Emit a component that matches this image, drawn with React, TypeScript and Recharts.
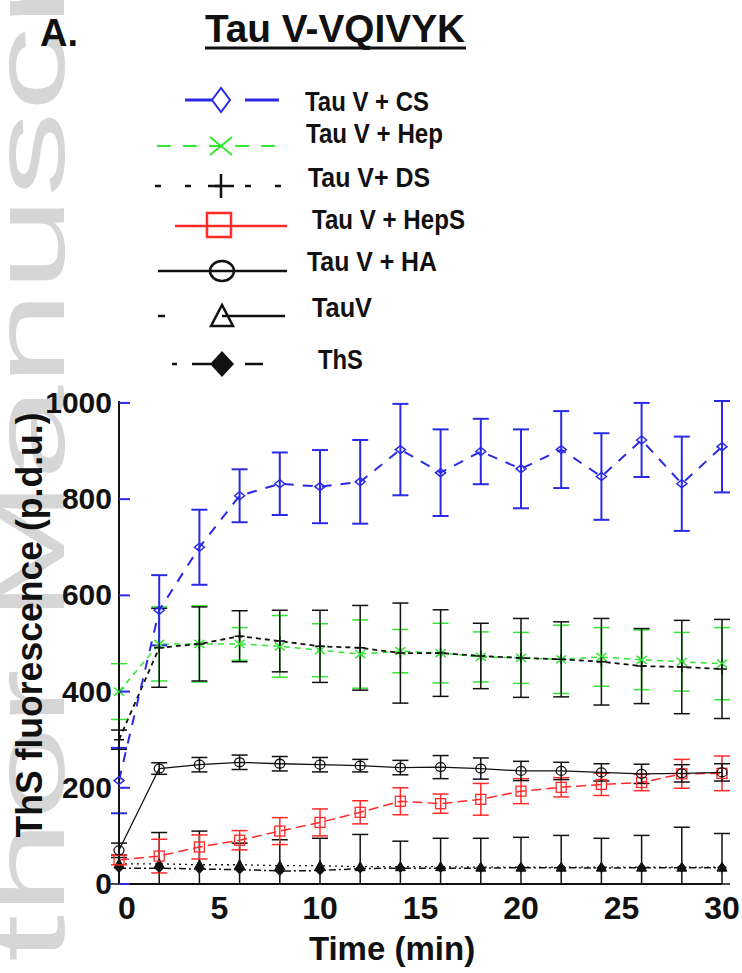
import React from 'react';
import { LineChart, Line, XAxis, YAxis, ErrorBar } from 'recharts';

// time points (min)
const time = [0, 2, 4, 6, 8, 10, 12, 14, 16, 18, 20, 22, 24, 26, 28, 30];

// Tau V + CS
const csValues = [215, 569, 700, 807, 832, 826, 836, 903, 855, 899, 863, 903, 847, 923, 832, 909];
const csErr = [68, 73, 78, 55, 65, 76, 87, 95, 90, 68, 82, 80, 90, 77, 98, 95];
// Tau V + Hep
const hepValues = [400, 499, 499, 499, 494, 486, 478, 484, 480, 472, 470, 467, 472, 466, 462, 458];
const hepErr = [58, 77, 79, 34, 64, 55, 71, 45, 62, 52, 53, 71, 61, 62, 61, 75];
// Tau V + DS
const dsValues = [300, 491, 499, 515, 505, 494, 491, 480, 480, 474, 470, 467, 462, 453, 451, 447];
const dsErr = [20, 82, 77, 53, 64, 75, 88, 104, 90, 68, 82, 78, 90, 78, 97, 103];
// Tau V + HepS
const hepsValues = [50, 58, 77, 91, 110, 128, 149, 172, 167, 176, 193, 201, 207, 211, 229, 230];
const hepsErr = [10, 35, 25, 20, 28, 28, 24, 28, 20, 33, 26, 20, 23, 17, 30, 36];
// Tau V + HA
const haValues = [70, 240, 248, 253, 250, 248, 246, 242, 243, 240, 235, 235, 232, 229, 230, 232];
const haErr = [15, 12, 15, 15, 15, 15, 13, 15, 24, 22, 20, 18, 18, 20, 18, 18];
// TauV alone
const tauvValues = [42, 42, 40, 40, 38, 38, 36, 36, 36, 35, 35, 35, 35, 35, 35, 35];
const tauvTop = [60, 107, 110, 85, 92, 95, 103, 89, 95, 95, 97, 101, 95, 101, 118, 105];
// ThS alone
const thsValues = [33, 33, 31, 30, 27, 28, 32, 33, 33, 33, 34, 34, 33, 34, 34, 34];

const yTicks = [0, 200, 400, 600, 800, 1000];
const xTicks = [0, 5, 10, 15, 20, 25, 30];

const BLUE = '#2a2ae6';
const GREEN = '#33e633';
const RED = '#ff2a2a';
const BLACK = '#111';
const FONT = '"Liberation Sans", Arial, sans-serif';

const data = time.map((t, i) => ({
  t,
  cs: csValues[i],
  csErr: csErr[i],
  hep: hepValues[i],
  hepErr: hepErr[i],
  ds: dsValues[i],
  dsErr: dsErr[i],
  heps: hepsValues[i],
  hepsErr: hepsErr[i],
  ha: haValues[i],
  haErr: haErr[i],
  tauv: tauvValues[i],
  tauvErr: [tauvValues[i], tauvTop[i] - tauvValues[i]],
  ths: thsValues[i],
}));

const diamond = (color: string) => (p: any) => (
  <path key={p.key} d={`M${p.cx - 5},${p.cy} L${p.cx},${p.cy - 4} L${p.cx + 5},${p.cy} L${p.cx},${p.cy + 4} Z`}
    fill="none" stroke={color} strokeWidth={1.5} />
);
const cross = (p: any) => (
  <path key={p.key} d={`M${p.cx - 5},${p.cy - 4} L${p.cx + 5},${p.cy + 4} M${p.cx - 5},${p.cy + 4} L${p.cx + 5},${p.cy - 4}`}
    stroke={GREEN} strokeWidth={1.5} />
);
const plus = (p: any) => (
  <path key={p.key} d={`M${p.cx - 5},${p.cy} L${p.cx + 5},${p.cy} M${p.cx},${p.cy - 5} L${p.cx},${p.cy + 5}`}
    stroke={BLACK} strokeWidth={1.5} />
);
const square = (p: any) => (
  <rect key={p.key} x={p.cx - 5} y={p.cy - 5} width={10} height={10} fill="none" stroke={RED} strokeWidth={1.3} />
);
const circle = (p: any) => (
  <ellipse key={p.key} cx={p.cx} cy={p.cy} rx={5} ry={4.5} fill="none" stroke={BLACK} strokeWidth={1.3} />
);
const triangle = (p: any) => (
  <path key={p.key} d={`M${p.cx - 5},${p.cy + 4} L${p.cx},${p.cy - 5} L${p.cx + 5},${p.cy + 4} Z`}
    fill={BLACK} stroke={BLACK} strokeWidth={1} />
);
const filledDiamond = (p: any) => (
  <path key={p.key} d={`M${p.cx - 5},${p.cy} L${p.cx},${p.cy - 5} L${p.cx + 5},${p.cy} L${p.cx},${p.cy + 5} Z`}
    fill={BLACK} />
);

const YTick = (props: any) => {
  const { y, payload } = props;
  return (
    <g>
      <line x1={119} x2={130} y1={y} y2={y} stroke={BLUE} strokeWidth={2} />
      <text x={112} y={y} dy={10} textAnchor="end" fontFamily={FONT} fontWeight="bold" fontSize={30} fill="#111">
        {payload.value}
      </text>
    </g>
  );
};

const XTick = (props: any) => {
  const { x, y, payload } = props;
  return (
    <text x={x + (payload.value === 0 ? 8 : 0)} y={y} dy={33} textAnchor="middle" fontFamily={FONT} fontWeight="bold" fontSize={32} fill="#111">
      {payload.value}
    </text>
  );
};

const LegendOverlay = () => {
  const lab = { fontFamily: FONT, fontWeight: 'bold' as const, fontSize: 28, fill: '#111', lengthAdjust: 'spacingAndGlyphs' };
  return (
    <svg width={742} height={400} style={{ position: 'absolute', left: 0, top: 0 }}>
      <text x={40} y={46} fontFamily={FONT} fontWeight="bold" fontSize={38} fill="#111">A.</text>
      <text x={205} y={42} fontFamily={FONT} fontWeight="bold" fontSize={38} fill="#111"
        textLength={260} lengthAdjust="spacingAndGlyphs">Tau V-VQIVYK</text>
      <line x1={205} x2={466} y1={48} y2={48} stroke="#111" strokeWidth={3} />

      {/* Tau V + CS */}
      <line x1={185} x2={212} y1={100} y2={100} stroke={BLUE} strokeWidth={3} />
      <path d="M212,100 L221,88 L230,100 L221,112 Z" fill="none" stroke={BLUE} strokeWidth={2} />
      <line x1={245} x2={279} y1={100} y2={100} stroke={BLUE} strokeWidth={3} />
      <text x={305} y={111} textLength={124} {...lab}>Tau V + CS</text>

      {/* Tau V + Hep */}
      <line x1={157} x2={285} y1={146} y2={146} stroke={GREEN} strokeWidth={2} strokeDasharray="14 12" />
      <path d="M210,137 L232,155 M210,155 L232,137" stroke={GREEN} strokeWidth={2} />
      <text x={306} y={143} textLength={137} {...lab}>Tau V + Hep</text>

      {/* Tau V + DS */}
      <line x1={155} x2={284} y1={186} y2={186} stroke={BLACK} strokeWidth={2.5} strokeDasharray="6 24" />
      <path d="M208,186 L234,186 M221,174 L221,198" stroke={BLACK} strokeWidth={2.5} />
      <text x={308} y={187} textLength={122} {...lab}>Tau V+ DS</text>

      {/* Tau V + HepS */}
      <line x1={175} x2={287} y1={226} y2={226} stroke={RED} strokeWidth={2.5} />
      <rect x={207} y={213} width={24} height={24} fill="none" stroke={RED} strokeWidth={2.5} />
      <text x={312} y={229} textLength={153} {...lab}>Tau V + HepS</text>

      {/* Tau V + HA */}
      <line x1={158} x2={287} y1={271} y2={271} stroke={BLACK} strokeWidth={2.5} />
      <ellipse cx={222} cy={271} rx={12} ry={10} fill="none" stroke={BLACK} strokeWidth={2.5} />
      <text x={307} y={271} textLength={130} {...lab}>Tau V + HA</text>

      {/* TauV */}
      <line x1={158} x2={165} y1={316} y2={316} stroke={BLACK} strokeWidth={2.5} />
      <line x1={222} x2={285} y1={316} y2={316} stroke={BLACK} strokeWidth={2.5} />
      <path d="M211,326 L222,305 L233,326 Z" fill="none" stroke={BLACK} strokeWidth={2.5} />
      <text x={312} y={317} textLength={60} {...lab}>TauV</text>

      {/* ThS */}
      <line x1={172} x2={177} y1={364} y2={364} stroke={BLACK} strokeWidth={2.5} />
      <line x1={192} x2={217} y1={364} y2={364} stroke={BLACK} strokeWidth={2.5} />
      <path d="M210,364 L222,351 L234,364 L222,377 Z" fill={BLACK} />
      <line x1={245} x2={263} y1={364} y2={364} stroke={BLACK} strokeWidth={2.5} />
      <text x={318} y={369} textLength={45} {...lab}>ThS</text>
    </svg>
  );
};

export default function App() {
  return (
    <div style={{ position: 'absolute', left: 0, top: 0, width: 742, height: 973, background: '#fff', overflow: 'hidden' }}>
      {/* watermark */}
      <svg width={742} height={973} style={{ position: 'absolute', left: 0, top: 0 }}>
        <text transform="translate(64 1170) scale(0.6 1) rotate(-90)" fontFamily={FONT} fontSize={170} fill="#d6d6d6">
          Author Manuscript
        </text>
      </svg>

      <div style={{ position: 'absolute', left: 0, top: 0 }}>
        <LineChart width={742} height={973} data={data} margin={{ top: 401, right: 20, bottom: 0, left: 0 }}>
          <XAxis dataKey="t" type="number" domain={[0, 30]} ticks={xTicks} height={89}
            axisLine={{ stroke: BLACK, strokeWidth: 2 }} tickLine={false} tickSize={0} tick={<XTick />} />
          <YAxis type="number" domain={[0, 1000]} ticks={yTicks} width={119}
            axisLine={{ stroke: BLACK, strokeWidth: 2 }} tickLine={false} tickSize={0} tick={<YTick />} />

          <Line dataKey="hep" stroke={GREEN} strokeWidth={1.5} strokeDasharray="6 5" dot={cross} activeDot={false} isAnimationActive={false}>
            <ErrorBar dataKey="hepErr" width={8} stroke={GREEN} strokeWidth={1.5} />
          </Line>
          <Line dataKey="ds" stroke={BLACK} strokeWidth={1.8} strokeDasharray="5 4" dot={plus} activeDot={false} isAnimationActive={false}>
            <ErrorBar dataKey="dsErr" width={8} stroke={BLACK} strokeWidth={1.5} />
          </Line>
          <Line dataKey="tauv" stroke={BLACK} strokeWidth={1.3} strokeDasharray="2 4" dot={triangle} activeDot={false} isAnimationActive={false}>
            <ErrorBar dataKey="tauvErr" width={8} stroke={BLACK} strokeWidth={1.5} />
          </Line>
          <Line dataKey="ths" stroke={BLACK} strokeWidth={1.5} strokeDasharray="7 3 2 3" dot={filledDiamond} activeDot={false} isAnimationActive={false} />
          <Line dataKey="heps" stroke={RED} strokeWidth={1.5} strokeDasharray="10 5" dot={square} activeDot={false} isAnimationActive={false}>
            <ErrorBar dataKey="hepsErr" width={8} stroke={RED} strokeWidth={1.5} />
          </Line>
          <Line dataKey="ha" stroke={BLACK} strokeWidth={1.3} dot={circle} activeDot={false} isAnimationActive={false}>
            <ErrorBar dataKey="haErr" width={8} stroke={BLACK} strokeWidth={1.5} />
          </Line>
          <Line dataKey="cs" stroke={BLUE} strokeWidth={2} strokeDasharray="10 9" dot={diamond(BLUE)} activeDot={false} isAnimationActive={false}>
            <ErrorBar dataKey="csErr" width={8} stroke={BLUE} strokeWidth={2} />
          </Line>
        </LineChart>
      </div>

      <LegendOverlay />

      {/* axis titles */}
      <svg width={742} height={973} style={{ position: 'absolute', left: 0, top: 0, pointerEvents: 'none' }}>
        <text x={42} y={625} transform="rotate(-90 42 625)" textAnchor="middle" fontFamily={FONT} fontWeight="bold" fontSize={36}
          fill="#111" textLength={425} lengthAdjust="spacingAndGlyphs">
          ThS fluorescence (p.d.u.)
        </text>
        <text x={392} y={960} textAnchor="middle" fontFamily={FONT} fontWeight="bold" fontSize={33} fill="#111">
          Time (min)
        </text>
      </svg>
    </div>
  );
}
